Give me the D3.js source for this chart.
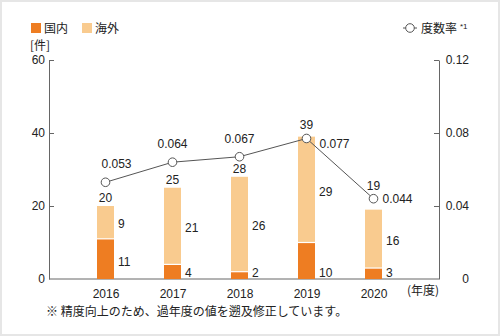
<!DOCTYPE html>
<html><head><meta charset="utf-8">
<script src="https://cdn.jsdelivr.net/npm/d3@7"></script>
<style>
html,body{margin:0;padding:0;background:#fff;}
svg{display:block;font-family:"Liberation Sans",Arial,"Noto Sans CJK JP",sans-serif;}
.cjk{font-family:"Noto Sans CJK JP","Liberation Sans",sans-serif;}
</style></head>
<body>
<svg id="c" width="500" height="336"></svg>
<script>
const years = ["2016","2017","2018","2019","2020"];
const domestic = [11, 4, 2, 10, 3];
const overseas = [9, 21, 26, 29, 16];
const totals = [20, 25, 28, 39, 19];
const rates = [0.053, 0.064, 0.067, 0.077, 0.044];
const leftTicks = [0, 20, 40, 60];
const rightTicks = [0, 0.04, 0.08, 0.12];
const rateLabelPlacement = ["above-right","above","above","right-below","right"];

const svg = d3.select("#c");
const C = {dom:"#ee7d22", ovs:"#f9cb8f", axis:"#666", text:"#222", line:"#555"};

svg.append("rect").attr("x",1).attr("y",1).attr("width",498).attr("height",334)
  .attr("fill","#fff").attr("stroke","#e6e6e6").attr("stroke-width",2);

const x = d3.scalePoint().domain(years).range([105.5, 373.5]);
const yL = d3.scaleLinear().domain([0,60]).range([279,60]);
const yR = d3.scaleLinear().domain([0,0.12]).range([279,60]);
const bw = 17;

// axes
const axL = svg.append("g").attr("transform","translate(49,0)")
  .call(d3.axisLeft(yL).tickValues(leftTicks).tickSizeInner(-5).tickSizeOuter(0).tickPadding(4));
const axR = svg.append("g").attr("transform","translate(439,0)")
  .call(d3.axisRight(yR).tickValues(rightTicks).tickSizeInner(-5).tickSizeOuter(0).tickPadding(30)
    .tickFormat(d => d === 0 ? "0" : d3.format(".2f")(d)));
axR.selectAll("text").attr("text-anchor","end");
[axL, axR].forEach(a => {
  a.select(".domain").attr("stroke", C.axis);
  a.selectAll(".tick line").attr("stroke", C.axis);
  a.selectAll("text").attr("fill", C.text).style("font-size","12px")
    .style("font-family","'Liberation Sans',Arial,sans-serif");
});
axL.selectAll(".tick").filter(d => d === 0).select("line").remove();
axR.selectAll(".tick").filter(d => d === 0).select("line").remove();

// bottom axis
const axB = svg.append("g").attr("transform","translate(0,279)")
  .call(d3.axisBottom(x).tickSize(0).tickPadding(10));
axB.select(".domain").attr("d","M49,0H439").attr("stroke", C.axis);
axB.selectAll("text").attr("fill", C.text).style("font-size","12px")
  .style("font-family","'Liberation Sans',Arial,sans-serif");

svg.append("text").attr("class","cjk").attr("x",439).attr("y",294.5).attr("text-anchor","end")
  .attr("fill",C.text).style("font-size","12px").text("(年度)");

// bars
const rows = years.map((yr,i)=>({yr, dom:domestic[i], ovs:overseas[i], tot:totals[i], rate:rates[i], i}));
const g = svg.append("g");
g.selectAll(".ovs").data(rows).join("rect")
  .attr("x", d => x(d.yr) - bw/2).attr("width", bw)
  .attr("y", d => yL(d.dom + d.ovs)).attr("height", d => yL(d.dom) - yL(d.dom + d.ovs))
  .attr("fill", C.ovs);
g.selectAll(".dom").data(rows).join("rect")
  .attr("x", d => x(d.yr) - bw/2).attr("width", bw)
  .attr("y", d => yL(d.dom)).attr("height", d => yL(0) - yL(d.dom))
  .attr("fill", C.dom);
g.selectAll(".sep").data(rows).join("line")
  .attr("x1", d => x(d.yr) - bw/2).attr("x2", d => x(d.yr) + bw/2)
  .attr("y1", d => yL(d.dom)).attr("y2", d => yL(d.dom))
  .attr("stroke","#fff").attr("stroke-width",1.2);

const lbl = svg.append("g").attr("fill", C.text).style("font-size","12px");
lbl.selectAll(".lo").data(rows).join("text")
  .attr("x", d => x(d.yr) + bw/2 + 4)
  .attr("y", d => yL(d.dom + d.ovs/2) + 6)
  .text(d => d.ovs);
lbl.selectAll(".ld").data(rows).join("text")
  .attr("x", d => x(d.yr) + bw/2 + 4)
  .attr("y", d => d.dom > 10 ? yL(d.dom/2) + 7 : yL(0) - 2)
  .text(d => d.dom);
lbl.selectAll(".lt").data(rows).join("text")
  .attr("x", d => x(d.yr)).attr("text-anchor","middle")
  .attr("y", d => {
    const top = yL(d.tot), cy = yR(d.rate);
    return (top - cy) < 14 ? cy - 9 : top - 4;
  })
  .text(d => d.tot);

// rate line
const line = d3.line().x(d => x(d.yr)).y(d => yR(d.rate));
svg.append("path").datum(rows).attr("d", line).attr("fill","none")
  .attr("stroke", C.line).attr("stroke-width",1);
svg.selectAll(".pt").data(rows).join("circle")
  .attr("cx", d => x(d.yr)).attr("cy", d => yR(d.rate)).attr("r",4.3)
  .attr("fill","#fff").attr("stroke", C.line).attr("stroke-width",1);
lbl.selectAll(".lr").data(rows).join("text")
  .each(function(d){
    const cx = x(d.yr), cy = yR(d.rate), p = rateLabelPlacement[d.i];
    const t = d3.select(this).text(d3.format(".3f")(d.rate));
    if (p === "above") t.attr("x", cx).attr("y", cy - 14).attr("text-anchor","middle");
    else if (p === "above-right") t.attr("x", cx + 11).attr("y", cy - 14).attr("text-anchor","middle");
    else if (p === "right-below") t.attr("x", cx + 13).attr("y", cy + 10);
    else t.attr("x", cx + 9).attr("y", cy + 4);
  });

// legends
svg.append("rect").attr("x",31).attr("y",23).attr("width",10).attr("height",10).attr("fill",C.dom);
svg.append("text").attr("class","cjk").attr("x",44).attr("y",32.5).attr("fill",C.text).style("font-size","12px").text("国内");
svg.append("rect").attr("x",82).attr("y",23).attr("width",10).attr("height",10).attr("fill",C.ovs);
svg.append("text").attr("class","cjk").attr("x",95).attr("y",32.5).attr("fill",C.text).style("font-size","12px").text("海外");
svg.append("line").attr("x1",403).attr("x2",417).attr("y1",28).attr("y2",28).attr("stroke",C.line);
svg.append("circle").attr("cx",410).attr("cy",28).attr("r",4.3).attr("fill","#fff").attr("stroke",C.line);
svg.append("text").attr("class","cjk").attr("x",421).attr("y",32.5).attr("fill",C.text).style("font-size","12px").text("度数率");
svg.append("text").attr("x",460).attr("y",29).attr("fill",C.text).style("font-size","8px").text("*1");
svg.append("text").attr("class","cjk").attr("x",30).attr("y",49.5).attr("fill",C.text).style("font-size","12px").text("[件]");

svg.append("text").attr("class","cjk").attr("x",46).attr("y",316).attr("fill",C.text).style("font-size","12px")
  .text("※ 精度向上のため、過年度の値を遡及修正しています。");
</script>
</body></html>
